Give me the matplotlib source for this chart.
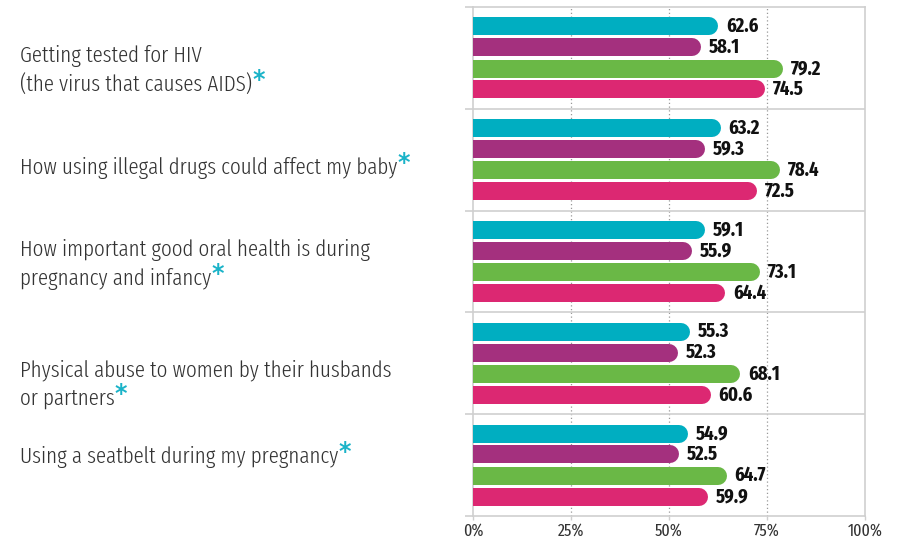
import matplotlib
matplotlib.use("Agg")
from matplotlib import pyplot as plt
from matplotlib import transforms
from matplotlib import font_manager as fm

# data
topics = [
    "Getting tested for HIV\n(the virus that causes AIDS)",
    "How using illegal drugs could affect my baby",
    "How important good oral health is during\npregnancy and infancy",
    "Physical abuse to women by their husbands\nor partners",
    "Using a seatbelt during my pregnancy",
]
series_a = [62.6, 63.2, 59.1, 55.3, 54.9]
series_b = [58.1, 59.3, 55.9, 52.3, 52.5]
series_c = [79.2, 78.4, 73.1, 68.1, 64.7]
series_d = [74.5, 72.5, 64.4, 60.6, 59.9]
x_ticks = [0, 25, 50, 75, 100]
x_tick_labels = ["0%", "25%", "50%", "75%", "100%"]

colors = ["#00AEC1", "#A4307E", "#6AB846", "#DC2872"]
star_color = "#1AB3C8"
text_color = "#333333"


def pick_font(candidates, size):
    """first installed (family, weight) from candidates, else DejaVu Sans"""
    for name, weight in candidates:
        for f in fm.fontManager.ttflist:
            if f.name == name and f.weight == weight and "italic" not in f.style:
                return fm.FontProperties(fname=f.fname, size=size)
    return fm.FontProperties(family="DejaVu Sans", size=size)


value_font = pick_font([("Fira Sans Extra Condensed", 700),
                        ("PT Sans Narrow", 700)], 14.5)
tick_font = pick_font([("Fira Sans Extra Condensed", 400),
                       ("PT Sans Narrow", 400)], 12.5)
label_font = pick_font([("Fira Sans Extra Condensed", 300),
                        ("Roboto Condensed", 300)], 16.5)
star_font = fm.FontProperties(family="DejaVu Sans", weight="bold", size=17)

W, H = 899, 544
fig = plt.figure(figsize=(W / 100, H / 100), dpi=100)
ax = fig.add_axes([473 / W, 28 / H, (865 - 473) / W, (537 - 28) / H])

ax.set_xlim(0, 100)
ax.set_ylim(len(topics), 0)

# bar geometry
offsets = [-0.31, -0.105, 0.105, 0.31]
bar_px = 18
px_per_unit_x = (865 - 473) / 100.0
cap_r = (bar_px / 2) / px_per_unit_x
lw_pt = bar_px * 72 / 100

all_series = [series_a, series_b, series_c, series_d]
for s_idx, series in enumerate(all_series):
    for g_idx, v in enumerate(series):
        y = g_idx + 0.5 + offsets[s_idx]
        ax.plot([-10, v - cap_r], [y, y], color=colors[s_idx], lw=lw_pt,
                solid_capstyle="round", zorder=3)
        ax.text(v + 2.0, y, f"{v:.1f}", ha="left", va="center",
                fontproperties=value_font, color="#111111", zorder=4)

# grid / frame
for xv in [25, 50, 75]:
    ax.axvline(xv, color="#999999", lw=0.9, ls=(0, (1, 2)), zorder=1)
for g in range(1, len(topics)):
    ax.axhline(g, color="#cfcfcf", lw=1.2, zorder=1)
for sp in ax.spines.values():
    sp.set_color("#cfcfcf")
    sp.set_linewidth(1.2)

ax.set_yticks(range(0, len(topics) + 1))
ax.set_yticklabels([])
ax.tick_params(axis="y", length=6, width=1.2, color="#cfcfcf", direction="out")
ax.set_xticks(x_ticks)
ax.set_xticklabels(x_tick_labels, fontproperties=tick_font, color=text_color)
ax.tick_params(axis="x", length=3, width=1.0, color="#cfcfcf", pad=2)

# category labels on the left
label_y = [0.62, 1.58, 2.53, 3.71, 4.42]
blend = transforms.blended_transform_factory(fig.transFigure, ax.transData)
line_gap = 29
for i, label in enumerate(topics):
    lines = label.split("\n")
    n = len(lines)
    last = None
    for k, line in enumerate(lines):
        dy = ((n - 1) / 2.0 - k) * line_gap
        last = ax.annotate(line, xy=(20 / W, label_y[i]), xycoords=blend,
                           xytext=(0, dy), textcoords="offset pixels",
                           ha="left", va="center", fontproperties=label_font,
                           color=text_color, annotation_clip=False)
    ax.annotate("*", xy=(1, 0.72), xycoords=last, xytext=(0, 0),
                textcoords="offset pixels", ha="left", va="center",
                fontproperties=star_font, color=star_color,
                annotation_clip=False)

fig.savefig("out.png", dpi=100)
